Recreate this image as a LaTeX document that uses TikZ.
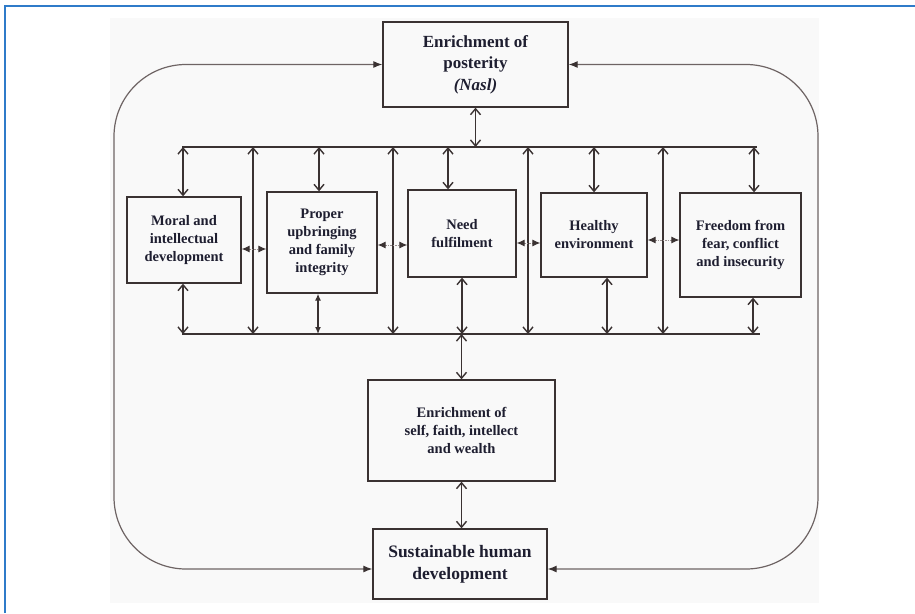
\documentclass[tikz,border=0pt]{standalone}
\usepackage{fontspec}
\setmainfont{Liberation Serif}
\usetikzlibrary{arrows.meta,calc}
\definecolor{frameblue}{HTML}{2F7BC9}
\definecolor{ink}{HTML}{3A3232}
\definecolor{txt}{HTML}{1E1E30}
\definecolor{loopgray}{HTML}{6E6464}
\definecolor{shaftgray}{HTML}{9A9090}
\definecolor{bg}{HTML}{F9F9F9}
\begin{document}
\begin{tikzpicture}[x=1pt,y=-1pt,
  box/.style={draw=ink,line width=1.3pt,fill=bg,inner sep=2pt,align=center,text=txt,
    font=\bfseries\fontsize{14.5}{18}\selectfont},
  bigbox/.style={box,font=\bfseries\fontsize{17}{21.5}\selectfont},
  bus/.style={draw=ink,line width=2.2pt},
  va/.style={draw=ink,line width=1.4pt,
    {Straight Barb[length=6pt,width=10pt]}-{Straight Barb[length=6pt,width=10pt]}},
  fa/.style={draw=ink,line width=1.3pt,
    {Latex[length=7pt,width=6pt]}-{Latex[length=7pt,width=6pt]}},
  ha/.style={draw=shaftgray,line width=1pt,dash pattern=on 1.5pt off 1pt,
    {Latex[length=8pt,width=7pt,color=ink]}-{Latex[length=8pt,width=7pt,color=ink]}},
  loopline/.style={draw=loopgray,line width=1.2pt,rounded corners=72pt,
    {Latex[length=9pt,width=7pt,color=ink]}-{Latex[length=9pt,width=7pt,color=ink]}},
]
\useasboundingbox (0,0) rectangle (915,613);
\fill[white] (0,0) rectangle (915,613);
\fill[bg] (110,18) rectangle (819,603);
\draw[frameblue,line width=2pt] (4.5,613) -- (4.5,5.5) -- (915,5.5);

% boxes
\node[bigbox,minimum width=185pt,minimum height=85pt] (top) at (475.5,64.5)
  {Enrichment of\\posterity\\\textit{(Nasl)}};
\node[box,minimum width=114pt,minimum height=86pt] (b1) at (184,240)
  {Moral and\\intellectual\\development};
\node[box,minimum width=110pt,minimum height=101pt] (b2) at (322,242.5)
  {Proper\\upbringing\\and family\\integrity};
\node[box,minimum width=108pt,minimum height=87pt] (b3) at (462,233.5)
  {Need\\fulfilment};
\node[box,minimum width=106pt,minimum height=84pt] (b4) at (594,235)
  {Healthy\\environment};
\node[box,minimum width=121pt,minimum height=104pt] (b5) at (740.5,245)
  {Freedom from\\fear, conflict\\and insecurity};
\node[box,minimum width=187pt,minimum height=101pt] (enr) at (461.5,430.5)
  {Enrichment of\\self, faith, intellect\\and wealth};
\node[bigbox,minimum width=174pt,minimum height=70pt,font=\bfseries\fontsize{17.5}{22}\selectfont] (sus) at (460,564)
  {Sustainable human\\development};

% buses
\coordinate (tl) at (182,147);
\coordinate (tr) at (757,147);
\coordinate (bl) at (182,334);
\coordinate (br) at (760,334);
\draw[bus] (tl) -- (tr);
\draw[bus] (bl) -- (br);

% top box to bus
\draw[va] (top.south) -- (top.south |- tl);

% box connections to buses
\draw[va] ([xshift=-1pt]b1.north |- tl) -- ([xshift=-1pt]b1.north);
\draw[va] ([xshift=-1pt]b1.south) -- ([xshift=-1pt]b1.south |- bl);
\draw[va] ([xshift=-3pt]b2.north |- tl) -- ([xshift=-3pt]b2.north);
\draw[fa] ([xshift=-4pt]b2.south) -- ([xshift=-4pt]b2.south |- bl);
\draw[va] ([xshift=-14pt]b3.north |- tl) -- ([xshift=-14pt]b3.north);
\draw[va] (b3.south) -- (b3.south |- bl);
\draw[va] (b4.north |- tl) -- (b4.north);
\draw[va] ([xshift=13pt]b4.south) -- ([xshift=13pt]b4.south |- bl);
\draw[va] ([xshift=13.5pt]b5.north |- tl) -- ([xshift=13.5pt]b5.north);
\draw[va] ([xshift=12.5pt]b5.south) -- ([xshift=12.5pt]b5.south |- bl);

% long bus-to-bus verticals
\draw[va] ($(tl)+(71,0)$) -- ($(bl)+(71,0)$);
\draw[va] ($(tl)+(211,0)$) -- ($(bl)+(211,0)$);
\draw[va] ($(tl)+(346,0)$) -- ($(bl)+(346,0)$);
\draw[va] ($(tl)+(481,0)$) -- ($(bl)+(481,0)$);

% horizontal links
\draw[ha] ([yshift=-9pt]b1.east) -- ([yshift=-9pt]b1.east -| b2.west);
\draw[ha] ([yshift=-2.5pt]b2.east) -- ([yshift=-2.5pt]b2.east -| b3.west);
\draw[ha] ([yshift=-9.5pt]b3.east) -- ([yshift=-9.5pt]b3.east -| b4.west);
\draw[ha] ([yshift=-5pt]b4.east) -- ([yshift=-5pt]b4.east -| b5.west);

% lower chain
\draw[va] (enr.north |- bl) -- (enr.north);
\draw[va] (enr.south) -- (enr.south |- sus.north);

% outer loop
\coordinate (lt) at (114,64.5);
\coordinate (lb) at (114,569);
\coordinate (rt) at (818,64.5);
\coordinate (rb) at (818,569);
\draw[loopline] (top.west) -- (lt) -- (lb) -- (sus.west |- lb);
\draw[loopline] (top.east) -- (rt) -- (rb) -- (sus.east |- rb);
\end{tikzpicture}
\end{document}
